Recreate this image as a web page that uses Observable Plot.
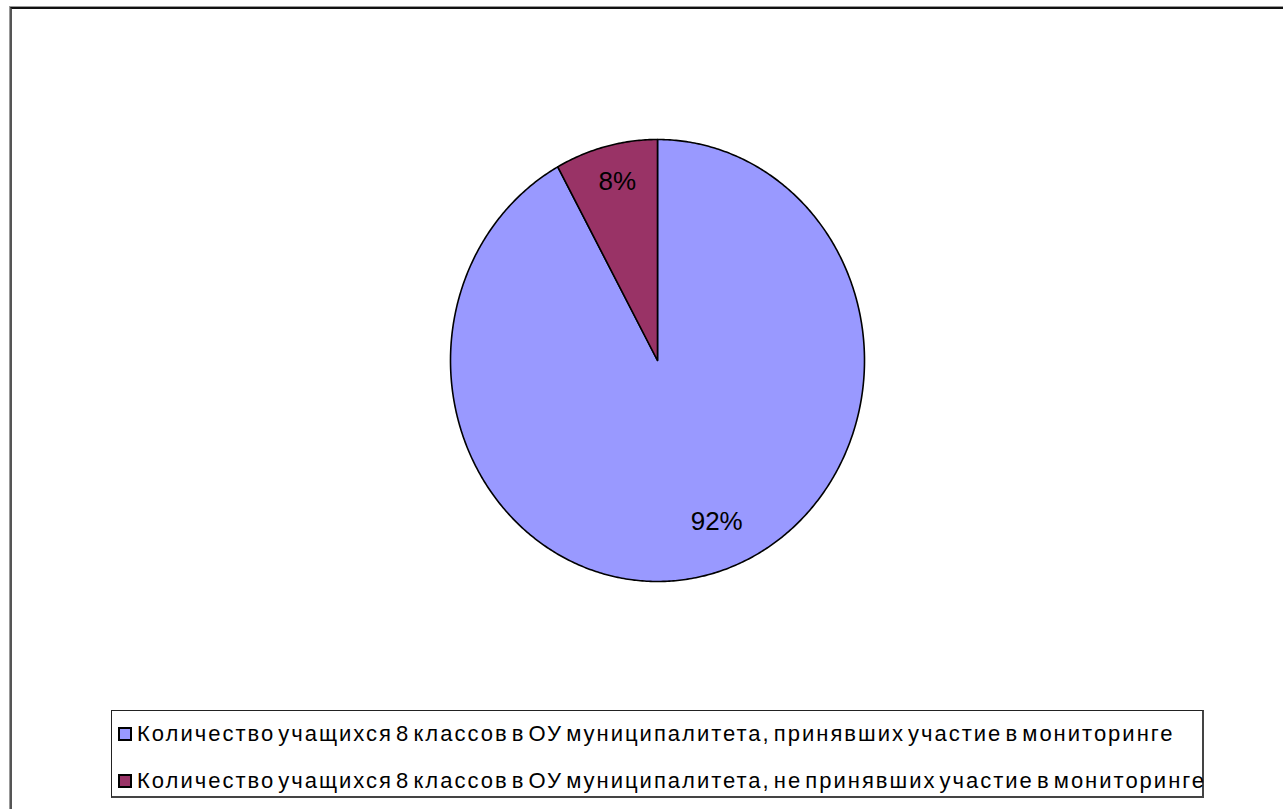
<!DOCTYPE html>
<html><head><meta charset="utf-8">
<script src="https://cdn.jsdelivr.net/npm/d3@7"></script>
<script src="https://cdn.jsdelivr.net/npm/@observablehq/plot@0.6"></script>
<style>
body{margin:0;background:#fff;font-family:"Liberation Sans",Arial,sans-serif;}
#wrap{position:relative;width:1283px;height:809px;overflow:hidden;}
#frame{position:absolute;left:10px;top:7px;width:1300px;height:830px;border-left:2px solid #555;border-top:2px solid #111;box-shadow:-1px -1px 0 #999;}
#legend{position:absolute;left:111px;top:710px;width:1090px;height:85px;border:1px solid #222;border-right:2px solid #444;border-bottom:2px solid #444;background:#fff;}
.item{position:absolute;left:6px;display:flex;align-items:center;font-size:22px;line-height:26px;letter-spacing:2px;word-spacing:-5px;white-space:nowrap;color:#000;}
.sw{width:10px;height:10px;border:2px solid #000;margin-right:5px;}
#chart{position:absolute;left:0;top:0;}
</style></head>
<body><div id="wrap"><div id="frame"></div><div id="chart"></div><div id="legend"></div></div>
<script>
const categories = [
  "Количество учащихся 8 классов в ОУ муниципалитета, принявших участие в мониторинге",
  "Количество учащихся 8 классов в ОУ муниципалитета, не принявших участие в мониторинге"
];
const values = [92, 8];
const labels = ["92%", "8%"];
const colors = ["#9999FF", "#993366"];

const total = d3.sum(values);
const slices = [];
let acc = 0;
categories.forEach((c, i) => {
  const a0 = acc / total * 2 * Math.PI;
  acc += values[i];
  const a1 = acc / total * 2 * Math.PI;
  slices.push({name: c, i, a0, a1, mid: (a0 + a1) / 2});
});
// polygon points (geometry derived from the data)
const pts = [];
for (const s of slices) {
  pts.push({name: s.name, x: 0, y: 0});
  const n = Math.max(2, Math.ceil((s.a1 - s.a0) / 0.01));
  for (let k = 0; k <= n; k++) {
    const a = s.a0 + (s.a1 - s.a0) * k / n;
    pts.push({name: s.name, x: Math.sin(a), y: Math.cos(a)});
  }
  pts.push({name: s.name, x: 0, y: 0});
}
const labelPts = slices.map((s, i) => ({label: labels[i], x: 0.8 * Math.sin(s.mid), y: 0.8 * Math.cos(s.mid), i}));

const plot = Plot.plot({
  width: 1283, height: 809, margin: 0,
  x: {domain: [-1, 1], range: [450, 864], axis: null},
  y: {domain: [-1, 1], range: [581, 139], axis: null},
  color: {domain: categories, range: colors},
  marks: [
    Plot.line(pts, {x: "x", y: "y", z: "name", fill: "name", stroke: "#000", strokeWidth: 1.6, strokeLinejoin: "round", curve: "linear"}),
    Plot.text(labelPts.filter(d => d.i === 0), {x: "x", y: "y", text: "label", fontSize: 26, fill: "#000", dx: 18, dy: -10}),
    Plot.text(labelPts.filter(d => d.i === 1), {x: "x", y: "y", text: "label", fontSize: 26, fill: "#000", dx: 1, dy: -8})
  ]
});
plot.style.fontFamily = '"Liberation Sans", Arial, sans-serif';
plot.style.background = "transparent";
document.getElementById("chart").appendChild(plot);

const leg = document.getElementById("legend");
categories.forEach((c, i) => {
  const d = document.createElement("div");
  d.className = "item";
  d.style.top = (i === 0 ? 10 : 57) + "px";
  d.innerHTML = `<span class="sw" style="background:${colors[i]}"></span><span class="t">${c}</span>`;
  leg.appendChild(d);
});
</script></body></html>
